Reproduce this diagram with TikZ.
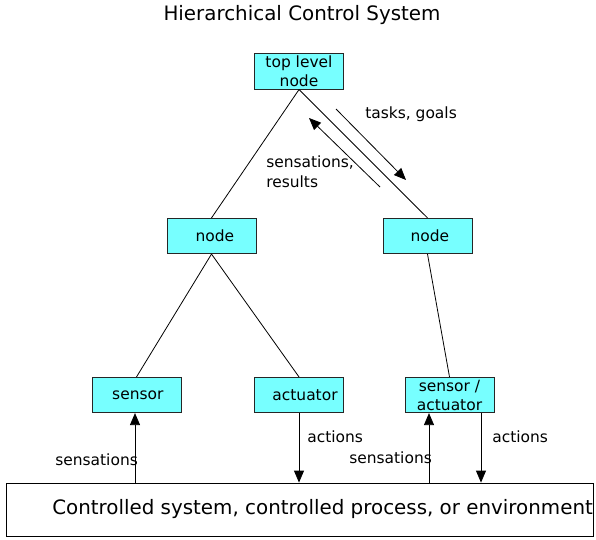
\documentclass[tikz,border=0pt]{standalone}
\usepackage{fontspec}
\setmainfont{DejaVu Sans}
\usetikzlibrary{arrows.meta}
\definecolor{boxcyan}{RGB}{119,255,255}
\begin{document}
\begin{tikzpicture}[x=0.75pt,y=-0.75pt,
  box/.style={draw=black!85, fill=boxcyan, line width=0.6pt, minimum width=66.75pt, minimum height=26.5pt, inner sep=0pt, align=center, font=\fontsize{11.6}{14.25}\selectfont},
  lbl/.style={anchor=west, inner sep=0pt, align=left, font=\fontsize{11.6}{15}\selectfont},
  link/.style={line width=0.6pt},
  arr/.style={line width=0.6pt, -{Triangle[length=9pt,width=7.5pt]}}]
\useasboundingbox (0,0) rectangle (596,539);
\node[font=\fontsize{14.9}{18}\selectfont] (title) at (302,15) {Hierarchical Control System};
\node[box] (top) at (299,71.5) {top level\\node};
\node[box] (ln) at (211.5,236) {\hspace*{5pt}node};
\node[box] (rn) at (427.5,236) {\hspace*{3.5pt}node};
\node[box] (sensor) at (136.5,395) {\hspace*{2pt}sensor};
\node[box] (act) at (299,395) {\hspace*{9pt}actuator};
\node[box] (sa) at (449.5,395) {sensor /\\actuator};
\node[draw=black, line width=0.6pt, minimum width=440.25pt, minimum height=39.75pt, inner sep=0pt] (env) at (299.5,509.5) {};
\node[anchor=west, inner sep=0pt, font=\fontsize{14.9}{18}\selectfont] (envtext) at (52,509.5) {Controlled system, controlled process, or environment};
\draw[link] (top.south) -- (ln.north);
\draw[link] (top.south) -- (rn.north);
\draw[link] (ln.south) -- (sensor.north);
\draw[link] (ln.south) -- (act.north);
\draw[link] (rn.south) -- (sa.north);
\coordinate (tg1) at (336,109);
\coordinate (tg2) at (406,180);
\coordinate (sr1) at (380,187);
\coordinate (sr2) at (309,118);
\draw[arr] (tg1) -- (tg2);
\draw[arr] (sr1) -- (sr2);
\node[lbl] (tglbl) at (365,114) {tasks, goals};
\node[lbl] (srlbl) at (266,172) {sensations,\\results};
\coordinate (s1) at ([xshift=-1.5*0.75pt]sensor.south);
\draw[arr] (s1 |- env.north) -- (s1);
\draw[arr] (act.south) -- (act.south |- env.north);
\coordinate (sa1) at ([xshift=-20.5*0.75pt]sa.south);
\coordinate (sa2) at ([xshift=31.5*0.75pt]sa.south);
\draw[arr] (sa1 |- env.north) -- (sa1);
\draw[arr] (sa2) -- (sa2 |- env.north);
\node[lbl] (l1) at (55,460) {sensations};
\node[lbl] (l2) at (307,437) {actions};
\node[lbl] (l3) at (349,458) {sensations};
\node[lbl] (l4) at (492,437) {actions};
\end{tikzpicture}
\end{document}
